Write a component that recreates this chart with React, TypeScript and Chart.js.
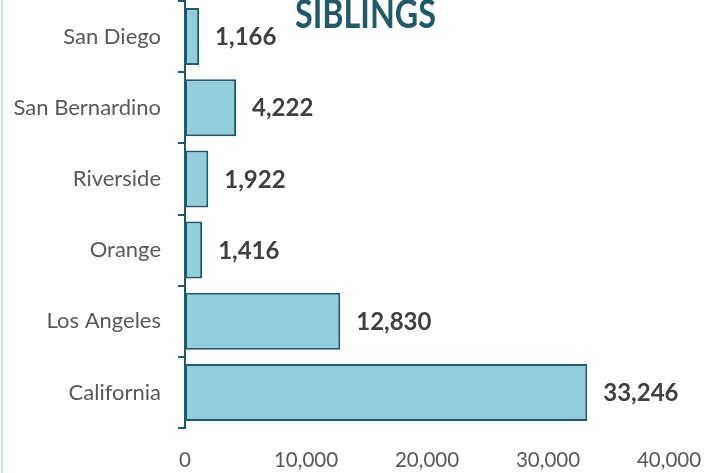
import React, { useEffect, useRef } from "react";
import { Chart, registerables } from "chart.js";

Chart.register(...registerables);

const categories = ["San Diego", "San Bernardino", "Riverside", "Orange", "Los Angeles", "California"];
const siblings = [1166, 4222, 1922, 1416, 12830, 33246];
const xTicks = [0, 10000, 20000, 30000, 40000];
const title = "SIBLINGS";

const FONT = "Lato, 'Open Sans', sans-serif";
const TEAL = "#215968";
const FILL = "#92CDDC";

const decorPlugin = {
  id: "decor",
  beforeDraw(chart: any) {
    const ctx = chart.ctx;
    ctx.save();
    ctx.fillStyle = "#BEE3F2";
    ctx.fillRect(1, 0, 2, chart.height);
    ctx.restore();
  },
  afterDatasetsDraw(chart: any) {
    const ctx = chart.ctx;
    const meta = chart.getDatasetMeta(0);
    ctx.save();
    ctx.font = `bold 24px ${FONT}`;
    ctx.fillStyle = "#404040";
    ctx.textAlign = "left";
    ctx.textBaseline = "middle";
    meta.data.forEach((bar: any, i: number) => {
      ctx.fillText(siblings[i].toLocaleString("en-US"), bar.x + 16, bar.y + 1);
    });
    // title
    ctx.font = `bold 40px ${FONT}`;
    ctx.fillStyle = TEAL;
    ctx.textAlign = "left";
    ctx.textBaseline = "alphabetic";
    const w = ctx.measureText(title).width;
    const target = 141;
    ctx.translate(295, 28);
    ctx.scale(target / w, 1);
    ctx.fillText(title, 0, 0);
    ctx.restore();
  },
};

export default function App() {
  const ref = useRef<HTMLCanvasElement | null>(null);
  useEffect(() => {
    if (!ref.current) return;
    const chart = new Chart(ref.current, {
      type: "bar",
      data: {
        labels: categories,
        datasets: [
          {
            data: siblings,
            backgroundColor: FILL,
            borderColor: TEAL,
            borderWidth: 2,
            borderSkipped: false,
            barPercentage: 0.8,
            categoryPercentage: 1,
          },
        ],
      },
      options: {
        indexAxis: "y",
        responsive: false,
        animation: false,
        layout: { padding: { top: 1, right: 38, left: 0, bottom: 0 } },
        plugins: { legend: { display: false }, tooltip: { enabled: false }, title: { display: false } },
        scales: {
          x: {
            min: 0,
            max: 40000,
            afterBuildTicks(scale: any) {
              scale.ticks = xTicks.map((v) => ({ value: v }));
            },
            afterFit(scale: any) {
              scale.height = 45;
              scale.paddingLeft = 0;
              scale.paddingRight = 0;
              scale.paddingTop = 0;
              scale.paddingBottom = 0;
            },
            grid: { display: false, drawTicks: false },
            border: { display: false },
            ticks: {
              padding: 20,
              color: "#595959",
              font: { family: FONT, size: 20.5 },
              callback: (v: any) => Number(v).toLocaleString("en-US"),
            },
          },
          y: {
            afterFit(scale: any) {
              scale.width = 185;
              scale.paddingLeft = 0;
              scale.paddingRight = 0;
              scale.paddingTop = 0;
              scale.paddingBottom = 0;
            },
            grid: {
              display: true,
              drawOnChartArea: false,
              drawTicks: true,
              tickLength: 7,
              color: TEAL,
              lineWidth: 2,
              offset: true,
            },
            border: { display: true, color: TEAL, width: 2 },
            ticks: {
              padding: 17,
              color: "#595959",
              font: { family: FONT, size: 22 },
            },
          },
        },
      },
      plugins: [decorPlugin],
    });
    return () => chart.destroy();
  }, []);
  return (
    <div style={{ position: "absolute", left: 0, top: 0, width: 707, height: 473, background: "#fff" }}>
      <canvas ref={ref} width={707} height={473} />
    </div>
  );
}
